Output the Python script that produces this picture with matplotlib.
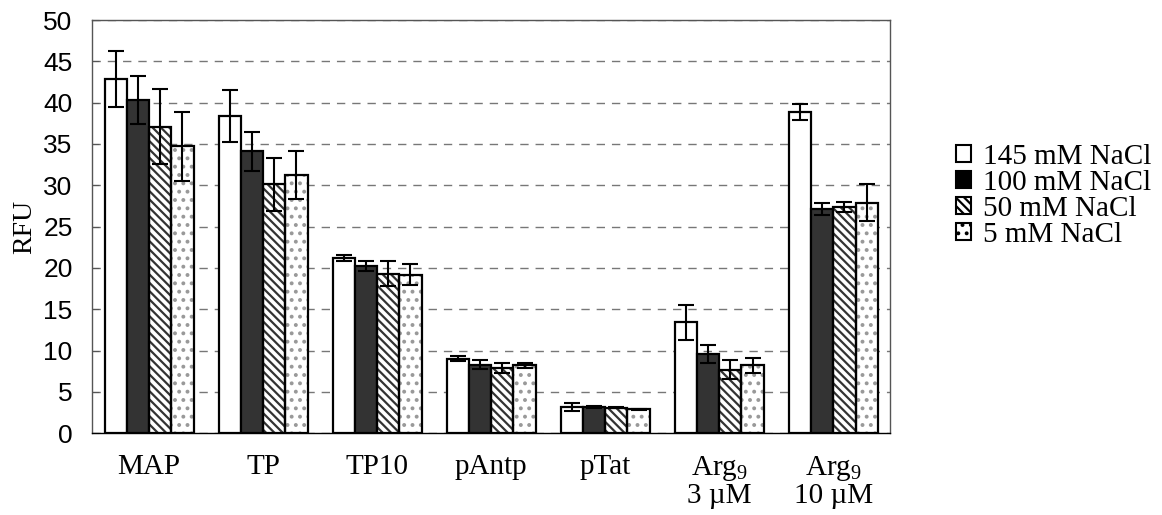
import numpy as np
import matplotlib.pyplot as plt

plt.rcParams['hatch.linewidth'] = 1.6
plt.rcParams['mathtext.fontset'] = 'custom'
plt.rcParams['mathtext.rm'] = 'Liberation Serif'
plt.rcParams['mathtext.it'] = 'Liberation Serif:italic'

categories = ['MAP', 'TP', 'TP10', 'pAntp', 'pTat', 'Arg$_9$\n3 µM', 'Arg$_9$\n10 µM']
series = ['145 mM NaCl', '100 mM NaCl', '50 mM NaCl', '5 mM NaCl']

v145 = [42.9, 38.4, 21.2, 9.0, 3.2, 13.4, 38.9]
v100 = [40.3, 34.1, 20.2, 8.3, 3.2, 9.6, 27.1]
v50 = [37.1, 30.1, 19.3, 7.9, 3.1, 7.7, 27.4]
v5 = [34.7, 31.2, 19.2, 8.2, 2.9, 8.2, 27.9]

e145 = [3.4, 3.1, 0.4, 0.3, 0.5, 2.1, 1.0]
e100 = [2.9, 2.4, 0.6, 0.5, 0.1, 1.1, 0.7]
e50 = [4.5, 3.2, 1.5, 0.6, 0.1, 1.1, 0.6]
e5 = [4.2, 2.9, 1.3, 0.3, 0.05, 0.9, 2.2]

values = [v145, v100, v50, v5]
errors = [e145, e100, e50, e5]
faces = ['white', '#333333', 'white', 'white']
hatches = [None, None, '\\\\\\\\', '..']
hatch_cols = [None, None, '#333333', '#999999']

fig = plt.figure(figsize=(11.62, 5.15), dpi=100)
ax = fig.add_axes([0.0792, 0.159, 0.687, 0.802])

x = np.arange(len(categories))
w = 0.195
handles = []
for i in range(4):
    pos = x + (i - 1.5) * w
    if hatches[i]:
        ax.bar(pos, values[i], w, color='white', edgecolor=hatch_cols[i],
               hatch=hatches[i], linewidth=0, zorder=2)
    ax.bar(pos, values[i], w, color=faces[i] if not hatches[i] else 'none',
           edgecolor='black', linewidth=1.6, zorder=3)
    ax.errorbar(pos, values[i], yerr=errors[i], fmt='none', ecolor='black',
                elinewidth=1.5, capsize=6, capthick=1.5, zorder=4)
    # legend proxy
    handles.append(plt.Rectangle((0, 0), 1, 1,
                                 facecolor='black' if i == 1 else faces[i],
                                 edgecolor='black', linewidth=1.5,
                                 hatch=hatches[i]))

ax.set_xlim(-0.5, len(categories) - 0.5)
ax.set_ylim(0, 50)
ax.set_yticks(range(0, 51, 5))
ax.yaxis.grid(True, linestyle=(0, (6, 5)), color='#777777', linewidth=1)
ax.set_axisbelow(True)
ax.set_xticks(x)
ax.set_xticklabels(categories, fontfamily='Liberation Serif', fontsize=21,
                   linespacing=1.0)
ax.tick_params(axis='x', length=0, pad=15)
ax.tick_params(axis='y', length=5, labelsize=19, direction='in',
               color='#555555', pad=14)
for lab in ax.get_yticklabels():
    lab.set_fontfamily('Liberation Sans')
for s in ax.spines.values():
    s.set_color('#555555')
    s.set_linewidth(1)
ax.spines['bottom'].set_color('black')
ax.set_ylabel('RFU', fontfamily='Liberation Serif', fontsize=20, labelpad=4)

ax.legend(handles, series, loc='center left', bbox_to_anchor=(1.05, 0.575),
          frameon=False, prop={'family': 'Liberation Serif', 'size': 21},
          handlelength=0.5, handleheight=0.5, handletextpad=0.4,
          labelspacing=0.0)

fig.savefig('out.png', dpi=100)
